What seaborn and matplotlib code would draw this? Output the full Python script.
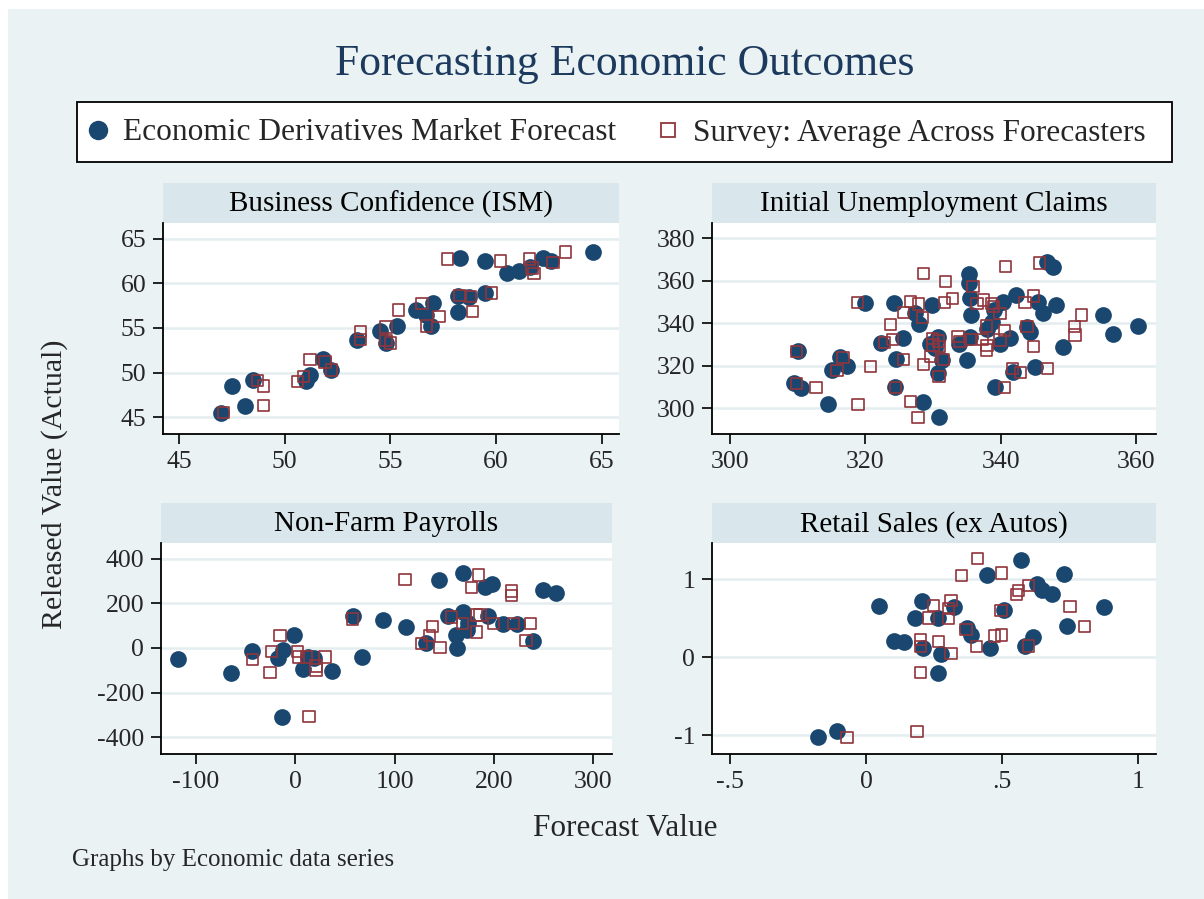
import matplotlib
matplotlib.use("Agg")
import matplotlib.pyplot as plt
from matplotlib.patches import Rectangle
from matplotlib.lines import Line2D
import seaborn as sns
import pandas as pd

# Business Confidence (ISM)
ism_mkt_x = [47.0, 47.5, 48.1, 48.5, 51.0, 51.2, 51.8, 52.2, 53.4, 54.5, 54.8, 55.3, 56.2, 57.0,
             56.7, 56.9, 58.2, 58.2, 58.7, 59.5, 58.3, 59.5, 60.5, 61.1, 61.6, 62.2, 62.6, 64.6]
ism_mkt_y = [45.5, 48.5, 46.3, 49.2, 49.1, 49.7, 51.5, 50.3, 53.6, 54.6, 53.3, 55.2, 57.0, 57.8,
             56.4, 55.2, 56.8, 58.6, 58.5, 58.9, 62.8, 62.5, 61.1, 61.4, 61.8, 62.8, 62.5, 63.5]
ism_srv_x = [47.1, 48.7, 49.0, 49.0, 50.6, 50.9, 51.2, 51.9, 52.2, 53.6, 53.6, 54.8, 54.8, 55.0,
             55.4, 56.5, 56.7, 57.3, 57.7, 58.3, 58.8, 58.9, 59.8, 60.2, 61.6, 61.7, 61.8, 62.7, 63.3]
ism_srv_y = [45.5, 49.1, 48.5, 46.3, 49.0, 49.6, 51.5, 51.2, 50.3, 54.6, 53.7, 55.1, 53.6, 53.3,
             57.0, 57.7, 55.2, 56.3, 62.7, 58.6, 58.5, 56.8, 58.9, 62.5, 62.7, 61.7, 61.1, 62.3, 63.5]

# Initial Unemployment Claims
iuc_mkt_x = [309.4, 310.0, 310.4, 314.4, 315.0, 316.3, 317.3, 319.9, 322.3, 324.2, 324.6, 324.4,
             325.6, 327.3, 328.0, 328.5, 329.8, 329.6, 330.3, 330.8, 330.8, 330.9, 331.3, 335.4,
             335.4, 335.5, 335.6, 335.1, 333.9, 335.5, 338.0, 338.7, 339.0, 339.2, 339.9, 340.4,
             341.4, 341.9, 342.3, 343.9, 344.3, 345.1, 345.6, 346.3, 346.9, 347.8, 348.2, 349.2,
             355.1, 356.6, 360.3]
iuc_mkt_y = [311.8, 326.8, 309.8, 302.0, 318.0, 324.3, 320.1, 349.7, 330.9, 349.7, 323.1, 310.2,
             332.9, 344.7, 339.7, 303.1, 348.9, 330.4, 328.2, 333.7, 316.5, 296.1, 322.7, 363.5,
             358.8, 351.8, 343.9, 322.7, 330.4, 333.7, 337.6, 340.8, 346.3, 310.2, 330.4, 350.1,
             332.9, 317.3, 353.3, 338.4, 336.1, 319.6, 350.1, 344.7, 369.0, 366.7, 348.6, 329.0,
             343.9, 335.0, 338.9]
iuc_srv_x = [309.8, 309.8, 312.7, 315.8, 316.7, 318.8, 318.9, 320.8, 322.8, 323.7, 324.0, 324.5,
             325.6, 325.6, 326.7, 326.7, 327.8, 327.9, 328.6, 328.5, 328.6, 329.6, 329.9, 330.0,
             330.8, 330.9, 331.0, 331.6, 331.7, 331.8, 332.9, 333.7, 334.0, 335.5, 335.9, 336.5,
             337.5, 337.3, 337.9, 338.0, 337.9, 338.7, 339.0, 339.9, 339.9, 340.6, 340.7, 340.6,
             341.8, 342.9, 343.6, 343.9, 344.9, 344.9, 345.8, 346.9, 350.9, 351.0, 352.0]
iuc_srv_y = [311.8, 326.8, 309.9, 317.9, 323.8, 349.7, 301.8, 319.8, 330.9, 339.5, 332.5, 309.9,
             323.1, 345.1, 350.2, 303.1, 295.8, 349.1, 363.5, 342.7, 320.7, 324.3, 332.9, 329.8,
             331.7, 314.9, 329.0, 323.1, 349.7, 359.9, 351.8, 333.7, 331.4, 332.5, 357.3, 349.4,
             351.0, 332.5, 338.8, 329.6, 327.5, 349.4, 347.8, 344.7, 332.2, 336.5, 366.7, 309.9,
             318.8, 316.8, 349.7, 338.4, 352.9, 329.0, 368.5, 318.8, 338.4, 334.5, 343.9]

# Non-Farm Payrolls
nfp_mkt_x = [-118.5, -64.8, -43.3, -17.1, -12.8, -13.8, -1.3, 7.4, 13.1, 19.1, 36.6, 58.4, 67.4,
             88.6, 111.1, 131.5, 144.6, 153.4, 161.7, 163.1, 168.5, 169.1, 172.5, 173.5, 190.9,
             194.3, 197.7, 209.4, 222.8, 239.6, 249.7, 262.4]
nfp_mkt_y = [-50, -110, -14, -47, -10, -308, 57, -92, -40, -47, -102, 144, -40, 124, 95, 20, 306,
             144, 57, 1, 162, 336, 80, 112, 273, 144, 288, 106, 109, 30, 261, 244]
nfp_srv_x = [-43.0, -25.5, -23.8, -15.4, 2.0, 3.0, 11.4, 20.8, 20.8, 29.9, 13.8, 57.4, 110.4,
             127.2, 134.9, 138.3, 145.6, 157.4, 168.5, 177.5, 182.6, 182.6, 184.2, 186.0, 199.3,
             217.8, 217.8, 219.5, 232.2, 236.9]
nfp_srv_y = [-52, -111, -17, 57, -17, -40, -40, -99, -81, -40, -308, 129, 306, 20, 57, 95, 1, 139,
             109, 270, 72, 147, 326, 147, 109, 255, 236, 109, 32, 109]

# Retail Sales (ex Autos)
rs_mkt_x = [-0.179, -0.106, 0.047, 0.102, 0.137, 0.180, 0.204, 0.208, 0.263, 0.263, 0.275, 0.321,
            0.370, 0.386, 0.443, 0.453, 0.508, 0.569, 0.584, 0.614, 0.627, 0.645, 0.682, 0.727,
            0.737, 0.874]
rs_mkt_y = [-1.017, -0.945, 0.663, 0.207, 0.198, 0.497, 0.719, 0.113, -0.198, 0.497, 0.036, 0.638,
            0.369, 0.284, 1.051, 0.113, 0.603, 1.252, 0.147, 0.262, 0.945, 0.868, 0.808, 1.064,
            0.399, 0.638]
rs_srv_x = [-0.071, 0.186, 0.200, 0.200, 0.200, 0.229, 0.247, 0.266, 0.303, 0.303, 0.311, 0.311,
            0.349, 0.367, 0.406, 0.409, 0.471, 0.495, 0.498, 0.498, 0.551, 0.559, 0.596, 0.596,
            0.749, 0.802]
rs_srv_y = [-1.026, -0.953, -0.194, 0.134, 0.228, 0.505, 0.667, 0.198, 0.497, 0.625, 0.723, 0.049,
            1.051, 0.356, 0.134, 1.264, 0.271, 0.603, 1.081, 0.284, 0.804, 0.859, 0.923, 0.143,
            0.646, 0.390]

panel_titles = ["Business Confidence (ISM)", "Initial Unemployment Claims",
                "Non-Farm Payrolls", "Retail Sales (ex Autos)"]
series_names = ["Economic Derivatives Market Forecast", "Survey: Average Across Forecasters"]
x_ticks = [[45, 50, 55, 60, 65], [300, 320, 340, 360], [-100, 0, 100, 200, 300], [-0.5, 0, 0.5, 1]]
y_ticks = [[45, 50, 55, 60, 65], [300, 320, 340, 360, 380], [-400, -200, 0, 200, 400], [-1, 0, 1]]

navy = "#1A476F"
maroon = "#90353B"
bg = "#EAF2F3"
strip = "#D9E6EB"

rows = []
data = [(ism_mkt_x, ism_mkt_y, ism_srv_x, ism_srv_y), (iuc_mkt_x, iuc_mkt_y, iuc_srv_x, iuc_srv_y),
        (nfp_mkt_x, nfp_mkt_y, nfp_srv_x, nfp_srv_y), (rs_mkt_x, rs_mkt_y, rs_srv_x, rs_srv_y)]
for title, (mx, my, sx, sy) in zip(panel_titles, data):
    rows += [(title, series_names[0], a, b) for a, b in zip(mx, my)]
    rows += [(title, series_names[1], a, b) for a, b in zip(sx, sy)]
df = pd.DataFrame(rows, columns=["series", "source", "forecast", "actual"])

sns.set_style("ticks")
plt.rcParams["font.family"] = ["Liberation Serif", "DejaVu Serif"]

W, H = 1204, 899
fig = plt.figure(figsize=(W / 100, H / 100), dpi=100, facecolor="white")
fig.patches.append(Rectangle((8 / W, 0), 1, 1 - 9 / H, transform=fig.transFigure,
                             facecolor=bg, edgecolor="none", zorder=-10))

# left, right, top, bottom in pixels
boxes = [(163, 619, 223, 434), (712, 1156, 223, 434), (161, 612, 543, 754), (712, 1156, 543, 754)]
xlims = [(44.24, 65.82), (297.3, 363.0), (-135.2, 318.8), (-0.567, 1.065)]
ylims = [(43.13, 66.74), (287.9, 387.3), (-474.6, 469.7), (-1.239, 1.464)]

def fmt(v):
    return ("%g" % v).replace("0.", ".")

for i, title in enumerate(panel_titles):
    l, r, t, b = boxes[i]
    ax = fig.add_axes([l / W, 1 - b / H, (r - l) / W, (b - t) / H])
    ax.set_facecolor("white")
    sub = df[df["series"] == title]
    mkt = sub[sub["source"] == series_names[0]]
    srv = sub[sub["source"] == series_names[1]]
    sns.scatterplot(data=mkt, x="forecast", y="actual", ax=ax, color=navy, marker="o",
                    s=145, linewidth=0, zorder=3)
    sns.scatterplot(data=srv, x="forecast", y="actual", ax=ax, marker="s", s=66,
                    color=maroon, facecolor="none", edgecolor=maroon, linewidth=1.2, zorder=4)
    ax.set_xlim(*xlims[i])
    ax.set_ylim(*ylims[i])
    ax.set_xticks(x_ticks[i])
    ax.set_xticklabels([fmt(v) for v in x_ticks[i]])
    ax.set_yticks(y_ticks[i])
    ax.set_yticklabels([fmt(v) for v in y_ticks[i]])
    ax.set_xlabel("")
    ax.set_ylabel("")
    ax.yaxis.grid(True, color="#E4EDF0", linewidth=1.8, zorder=0)
    ax.set_axisbelow(True)
    ax.tick_params(labelsize=18.5, length=7, width=1.2, color="black", pad=5)
    for side in ["top", "right"]:
        ax.spines[side].set_visible(False)
    for side in ["left", "bottom"]:
        ax.spines[side].set_color("black")
        ax.spines[side].set_linewidth(1.3)
    sh = 40 / (b - t)
    ax.add_patch(Rectangle((0, 1), 1, sh, transform=ax.transAxes, facecolor=strip,
                           edgecolor="none", clip_on=False))
    ax.text(0.5, 1 + sh / 2 - 0.005, title, transform=ax.transAxes, ha="center", va="center",
            fontsize=21, color="black")

fig.text(625 / W, 1 - 64 / H, "Forecasting Economic Outcomes", ha="center", va="center",
         fontsize=31.5, color="#1C3A5E")

# legend box
fig.patches.append(Rectangle((77 / W, 1 - 162 / H), 1095 / W, 60 / H, transform=fig.transFigure,
                             facecolor="white", edgecolor="black", linewidth=1.3, zorder=1))
handles = [Line2D([], [], marker="o", ls="", color=navy, markersize=14, markeredgewidth=0),
           Line2D([], [], marker="s", ls="", markerfacecolor="none", markeredgecolor=maroon,
                  markersize=10, markeredgewidth=1.3)]
leg = fig.legend(handles, series_names, loc="center left", ncol=2,
                 bbox_to_anchor=(87 / W, 1 - 133 / H), fontsize=22.6, frameon=False,
                 handlelength=0.7, handletextpad=0.45, columnspacing=1.3,
                 borderpad=0, borderaxespad=0)

fig.text(55 / W, 1 - 484 / H, "Released Value (Actual)", rotation=90, ha="center", va="center",
         fontsize=21.5)
fig.text(625 / W, 1 - 828 / H, "Forecast Value", ha="center", va="center", fontsize=22.5)
fig.text(72 / W, 1 - 860 / H, "Graphs by Economic data series", ha="left", va="center",
         fontsize=18)

fig.savefig("out.png", dpi=100, facecolor=fig.get_facecolor())
